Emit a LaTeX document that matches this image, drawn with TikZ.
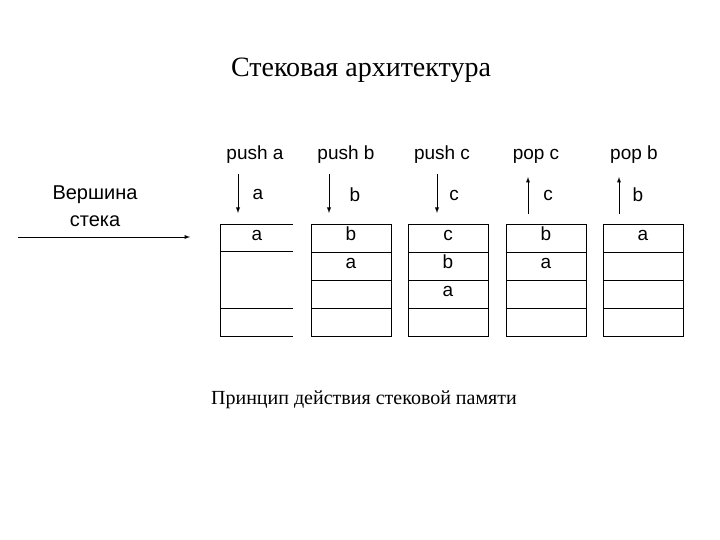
\documentclass[tikz,border=0pt]{standalone}
\usepackage{fontspec}
\setmainfont{Liberation Serif}
\newfontfamily\lsans{Liberation Sans}
\begin{document}
\begin{tikzpicture}[x=1pt,y=-1pt,
  lab/.style={font=\lsans\fontsize{19}{22}\selectfont,inner sep=0pt,text height=1.45ex,text depth=.3ex},
  cell/.style={lab},
  ln/.style={line width=0.9pt},
  arr/.style={line width=0.9pt,-latex}]
\useasboundingbox (0,0) rectangle (720,540);
\node[font=\fontsize{28}{32}\selectfont] (title) at (361,70) {Стековая архитектура};
\node[font=\fontsize{20}{24}\selectfont] (cap) at (364,400) {Принцип действия стековой памяти};
\node[font=\lsans\fontsize{20}{22}\selectfont,inner sep=0pt] (top1) at (95,195) {Вершина};
\node[font=\lsans\fontsize{20}{22}\selectfont,inner sep=0pt] (top2) at (95,221) {стека};
\coordinate (l0) at (18,237);
\coordinate (l1) at (190,237);
\draw[ln,-latex] (l0) -- (l1);
% column 1
\draw[ln] (293,224) -- (220,224) -- (220,336) -- (293,336);
\draw[ln] (220,251) -- (293,251) (220,308) -- (293,308);
\node[cell] (c1a) at (257,238) {a};
% columns 2-5
\foreach \x in {311,408,506,603}{
  \draw[ln] (\x,224) rectangle (\x+80,336);
  \foreach \y in {252,280,308} \draw[ln] (\x,\y) -- (\x+80,\y);
}
\node[cell] (c2a) at (351,238) {b};
\node[cell] (c2b) at (351,266) {a};
\node[cell] (c3a) at (448,238) {c};
\node[cell] (c3b) at (448,266) {b};
\node[cell] (c3c) at (448,294) {a};
\node[cell] (c4a) at (546,238) {b};
\node[cell] (c4b) at (546,266) {a};
\node[cell] (c5a) at (643,238) {a};
% headers
\node[lab] (h1) at (255,157) {push a};
\node[lab] (h2) at (346,157) {push b};
\node[lab] (h3) at (442,157) {push c};
\node[lab] (h4) at (536,157) {pop c};
\node[lab] (h5) at (634,157) {pop b};
\node[lab] (v1) at (258,197) {a};
\node[lab] (v2) at (355,199) {b};
\node[lab] (v3) at (454,198) {c};
\node[lab] (v4) at (548,198) {c};
\node[lab] (v5) at (638,199) {b};
\coordinate (a1s) at (238,174); \coordinate (a1e) at (238,213);
\coordinate (a2s) at (329,174); \coordinate (a2e) at (329,213);
\coordinate (a3s) at (437,174); \coordinate (a3e) at (437,213);
\coordinate (a4s) at (528,214); \coordinate (a4e) at (528,177);
\coordinate (a5s) at (619,214); \coordinate (a5e) at (619,177);
\foreach \i in {1,...,5} \draw[arr] (a\i s) -- (a\i e);
\end{tikzpicture}
\end{document}
